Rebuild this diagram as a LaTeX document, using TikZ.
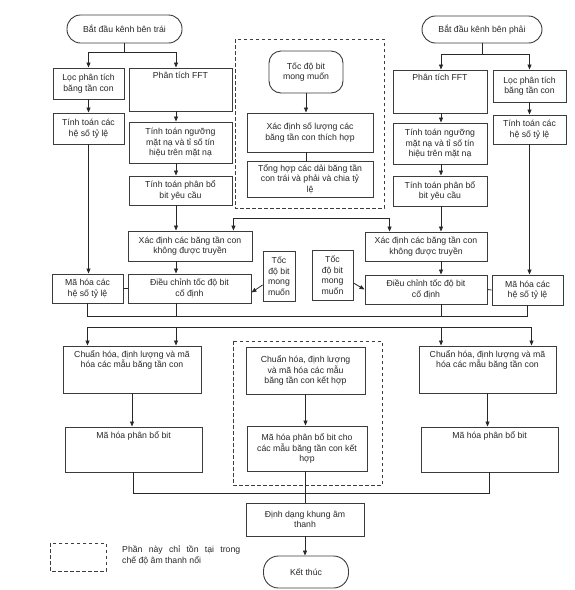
\documentclass[tikz,border=0pt]{standalone}
\usepackage{fontspec}
\setmainfont{Liberation Sans}
\usepackage{tikz}
\usetikzlibrary{arrows.meta}
\definecolor{myink}{RGB}{40,40,40}
\definecolor{myedge}{RGB}{60,60,60}
\newcommand{\blockfont}{\fontsize{8.7}{10.5}\selectfont}
\tikzset{
  block/.style={rectangle, draw=myedge, fill=white, align=center,
    inner sep=2pt, line width=0.9pt, font=\blockfont, text=myink},
  terminal/.style={block, rounded corners=#1},
  wh/.style 2 args={minimum width=#1pt, minimum height=#2pt},
  toptext/.style={anchor=north, align=center, inner sep=4.5pt,
    font=\blockfont, text=myink},
  stereo/.style={draw=myedge, line width=0.9pt, dash pattern=on 3.5pt off 2.5pt},
  arrow/.style={-{Triangle[length=5pt,width=4pt]}, line width=0.8pt, color=myink},
  line/.style={line width=0.8pt, color=myink}
}

\begin{document}
\begin{tikzpicture}[x=1pt, y=1pt]
  \useasboundingbox (0,0) rectangle (575,-590);

  % Left channel
  \node[terminal=13.5pt, wh={115}{28}] (startL) at (124.5,-29) {Bắt đầu kênh bên trái};
  \node[block, wh={71}{31}] (locL) at (88.5,-83.5) {Lọc phân tích\\băng tần con};
  \node[block, wh={103}{43}] (fftL) at (180.5,-89.5) {};
  \node[toptext] (fftLtxt) at (fftL.north) {Phân tích FFT};
  \node[block, wh={71}{31}] (heSoL) at (88.5,-128.5) {Tính toán các\\hệ số tỷ lệ};
  \node[block, wh={103}{41}] (nguongL) at (180.5,-142.5) {Tính toán ngưỡng\\mặt nạ và tỉ số tín\\hiệu trên mặt nạ};
  \node[block, wh={103}{29}] (phanBoL) at (180.5,-190.5) {Tính toán phân bổ\\bit yêu cầu};
  \node[block, wh={124}{30}] (khongTruyenL) at (190,-246) {Xác định các băng tần con\\không được truyền};
  \node[block, wh={123}{29}] (dieuChinhL) at (189.5,-288.5) {Điều chỉnh tốc độ bit\\cố định};
  \node[block, wh={71}{29}] (maHeSoL) at (87.5,-288.5) {Mã hóa các\\hệ số tỷ lệ};
  \node[block, wh={32}{50}, inner sep=0pt] (tocDoL) at (279,-276) {Tốc\\độ bit\\mong\\muốn};

  % Stereo part on top
  \node[terminal=12pt, wh={74}{42}] (tocDoMM) at (306,-72) {Tốc độ bit\\mong muốn};
  \node[block, wh={126}{39}] (soLuong) at (310,-132.5) {Xác định số lượng các\\băng tần con thích hợp};
  \node[block, wh={126}{36}] (tongHop) at (310,-179) {Tổng hợp các dải băng tần\\con trái và phải và chia tỷ\\lệ};
  \draw[stereo] (235,-39) rectangle (384,-208);

  % Right channel
  \node[terminal=13.5pt, wh={120}{27}] (startR) at (482,-29.5) {Bắt đầu kênh bên phải};
  \node[block, wh={94}{43}] (fftR) at (440,-91.5) {};
  \node[toptext] (fftRtxt) at (fftR.north) {Phân tích FFT};
  \node[block, wh={73}{32}] (locR) at (529.5,-86) {Lọc phân tích\\băng tần con};
  \node[block, wh={73}{29}] (heSoR) at (529.5,-129.5) {Tính toán các\\hệ số tỷ lệ};
  \node[block, wh={94}{41}] (nguongR) at (440,-143.5) {Tính toán ngưỡng\\mặt nạ và tỉ số tín\\hiệu trên mặt nạ};
  \node[block, wh={94}{30}] (phanBoR) at (440,-191) {Tính toán phân bổ\\bit yêu cầu};
  \node[block, wh={122}{29}] (khongTruyenR) at (426,-246.5) {Xác định các băng tần con\\không được truyền};
  \node[block, wh={122}{29}] (dieuChinhR) at (426,-289.5) {Điều chỉnh tốc độ bit\\cố định};
  \node[block, wh={71}{30}] (maHeSoR) at (527.5,-290) {Mã hóa các\\hệ số tỷ lệ};
  \node[block, wh={41}{50}, inner sep=0pt] (tocDoR) at (332.5,-275) {Tốc\\độ bit\\mong\\muốn};

  % Coding of subband samples
  \node[block, wh={138}{47}] (chuanHoaL) at (132,-369.5) {};
  \node[toptext] (chuanHoaLtxt) at (chuanHoaL.north) {Chuẩn hóa, định lượng và mã\\hóa các mẫu băng tần con};
  \node[block, wh={137}{45}] (maPhanBoL) at (133.5,-449.5) {};
  \node[toptext] (maPhanBoLtxt) at (maPhanBoL.north) {Mã hóa phân bổ bit};
  \node[block, wh={119}{47}] (chuanHoaC) at (305.5,-370.5) {Chuẩn hóa, định lượng\\và mã hóa các mẫu\\băng tần con kết hợp};
  \node[block, wh={120}{45}] (maPhanBoC) at (307,-448.5) {Mã hóa phân bổ bit cho\\các mẫu băng tần con kết\\hợp};
  \draw[stereo] (233,-341) rectangle (382,-485);
  \node[block, wh={137}{47}] (chuanHoaR) at (487.5,-369.5) {};
  \node[toptext] (chuanHoaRtxt) at (chuanHoaR.north) {Chuẩn hóa, định lượng và mã\\hóa các mẫu băng tần con};
  \node[block, wh={137}{45}] (maPhanBoR) at (489.5,-449.5) {};
  \node[toptext] (maPhanBoRtxt) at (maPhanBoR.north) {Mã hóa phân bổ bit};
  \node[block, wh={118}{33}] (dinhDang) at (305,-519.5) {Định dạng khung âm\\thanh};
  \node[terminal=15pt, wh={85}{32}] (ketThuc) at (306,-572) {Kết thúc};

  % Legend
  \draw[stereo] (50,-543) rectangle (106,-571);
  \node[anchor=north west, align=left, inner sep=0pt, font=\blockfont, text=myink] (legendTxt) at (122,-546) {\makebox[118pt][s]{Phần này chỉ tồn tại trong}\\chế độ âm thanh nổi};

  % Connectors, left channel
  \coordinate (colL) at (176,0);
  \coordinate (colR) at (441,0);
  \draw[line] (startL.south) -- ++(0,-9) coordinate (splitL);
  \draw[arrow] (splitL) -| (locL.north);
  \draw[arrow] (splitL) -| (fftL.north -| colL);
  \draw[arrow] (locL.south) -- (heSoL.north);
  \draw[arrow] (heSoL.south) -- (heSoL.south |- maHeSoL.north);
  \draw[arrow] (fftL.south -| colL) -- (nguongL.north -| colL);
  \draw[arrow] (nguongL.south -| colL) -- (phanBoL.north -| colL);
  \draw[arrow] (phanBoL.south -| colL) -- (khongTruyenL.north -| colL);
  \draw[arrow] (khongTruyenL.south -| colL) -- (dieuChinhL.north -| colL);
  \draw[line] (maHeSoL.east) -- (dieuChinhL.west);
  \draw[arrow] ([yshift=-9pt]tocDoL.west) -- ([yshift=-4pt]dieuChinhL.east);

  % Connectors, stereo part
  \coordinate (busD) at (0,-218);
  \draw[arrow] (tocDoMM.south) -- (tocDoMM.south |- soLuong.north);
  \draw[line] (soLuong.south -| tocDoMM) -- (tongHop.north -| tocDoMM);
  \draw[arrow] (tongHop.south |- busD) -| ([xshift=-19pt]khongTruyenL.north east);
  \draw[arrow] (tongHop.south |- busD) -| ([xshift=25pt]khongTruyenR.north west);

  % Connectors, right channel
  \draw[line] (startR.south) -- ++(0,-11) coordinate (splitR);
  \draw[arrow] (splitR) -| (fftR.north -| colR);
  \draw[arrow] (splitR) -| (locR.north);
  \draw[arrow] (locR.south) -- (heSoR.north);
  \draw[arrow] (heSoR.south) -- (heSoR.south |- maHeSoR.north);
  \draw[arrow] (fftR.south -| colR) -- (nguongR.north -| colR);
  \draw[arrow] (nguongR.south -| colR) -- (phanBoR.north -| colR);
  \draw[arrow] (phanBoR.south -| colR) -- (khongTruyenR.north -| colR);
  \draw[arrow] (khongTruyenR.south -| colR) -- (dieuChinhR.north -| colR);
  \draw[line] (dieuChinhR.east) -- (maHeSoR.west);
  \draw[arrow] ([yshift=-8pt]tocDoR.east) -- (dieuChinhR.west);

  % Buses
  \coordinate (busA) at (0,-316);
  \coordinate (busB) at (0,-327);
  \coordinate (busC) at (0,-493);
  \draw[line] (maHeSoL.south) |- (maHeSoR.south |- busA) -- (maHeSoR.south);
  \draw[line] (dieuChinhL.south -| colL) -- (colL |- busA);
  \draw[line] (dieuChinhR.south -| colR) -- (colR |- busA);
  \draw[line] (maHeSoL.south |- busB) -- ([xshift=4pt]maHeSoR.south |- busB);
  \draw[arrow] (maHeSoL.south |- busB) -- (maHeSoL.south |- chuanHoaL.north);
  \draw[arrow] (colL |- busB) -- (colL |- chuanHoaL.north);
  \draw[arrow] (colR |- busB) -- (colR |- chuanHoaR.north);
  \draw[arrow] ([xshift=4pt]maHeSoR.south |- busB) -- ([xshift=4pt]maHeSoR.south |- chuanHoaR.north);

  % Connectors, bottom
  \draw[arrow] (chuanHoaL.south) -- (chuanHoaL.south |- maPhanBoL.north);
  \draw[arrow] (chuanHoaC.south) -- (chuanHoaC.south |- maPhanBoC.north);
  \draw[arrow] (chuanHoaR.south) -- (chuanHoaR.south |- maPhanBoR.north);
  \draw[line] (maPhanBoL.south) |- (maPhanBoR.south |- busC) -- (maPhanBoR.south);
  \draw[line] (maPhanBoC.south -| dinhDang) -- (dinhDang.north);
  \draw[arrow] (dinhDang.south) -- (dinhDang.south |- ketThuc.north);
\end{tikzpicture}
\end{document}
